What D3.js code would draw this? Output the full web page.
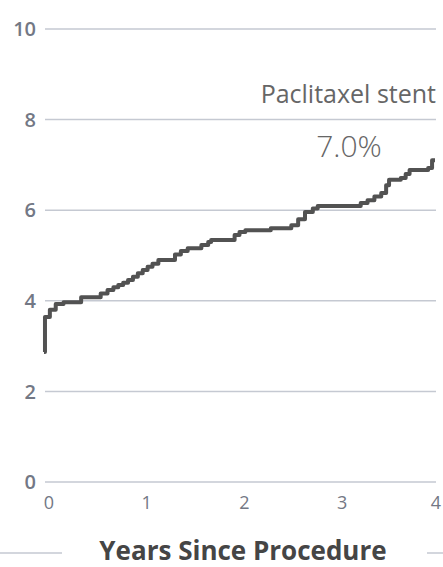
<!DOCTYPE html>
<html><head><meta charset="utf-8">
<script src="https://cdn.jsdelivr.net/npm/d3@7"></script>
<style>
html,body{margin:0;padding:0;background:#fff;}
text{font-family:"Open Sans",sans-serif;}
</style></head>
<body>
<svg id="chart" width="443" height="567"></svg>
<script>
const years = [0.00,0.01,0.06,0.12,0.20,0.38,0.58,0.65,0.71,0.76,0.81,0.86,0.91,0.96,1.01,1.06,1.11,1.17,1.34,1.40,1.47,1.61,1.68,1.71,1.95,2.00,2.06,2.32,2.53,2.60,2.67,2.75,2.80,3.24,3.31,3.38,3.45,3.50,3.53,3.65,3.70,3.74,3.93,3.97,4.00];
const rates = [2.87,3.64,3.80,3.93,3.97,4.08,4.16,4.24,4.30,4.35,4.40,4.46,4.53,4.61,4.68,4.75,4.82,4.90,5.02,5.10,5.16,5.23,5.30,5.34,5.45,5.52,5.56,5.60,5.67,5.80,5.96,6.04,6.09,6.16,6.22,6.30,6.38,6.55,6.67,6.71,6.80,6.89,6.93,7.10,7.10];
const yTicks = [0,2,4,6,8,10];
const xTicks = [0,1,2,3,4];
const seriesName = "Paclitaxel stent";
const finalLabel = "7.0%";
const xTitle = "Years Since Procedure";

const svg = d3.select("#chart");
const x = d3.scaleLinear().domain([0,4]).range([44,435]);
const y = d3.scaleLinear().domain([0,10]).range([482,29]);

svg.append("g").selectAll("line").data(yTicks).join("line")
  .attr("x1",45).attr("x2",436)
  .attr("y1",d=>y(d)).attr("y2",d=>y(d))
  .attr("stroke","#c5c9d2").attr("stroke-width",1.5);

svg.append("g").selectAll("text").data(yTicks).join("text")
  .attr("x",36).attr("y",d=>y(d)).attr("dy","0.36em")
  .attr("text-anchor","end").attr("font-size",20).attr("font-weight",600)
  .attr("fill","#737885").text(d=>d);

svg.append("g").selectAll("text").data(xTicks).join("text")
  .attr("x",d=>Math.min(x(d)+5, 436)).attr("y",509)
  .attr("text-anchor","middle").attr("font-size",18).attr("font-weight",400)
  .attr("fill","#737885").text(d=>d);

const line = d3.line().x((d,i)=>x(years[i])).y((d,i)=>y(rates[i])).curve(d3.curveStepAfter);
svg.append("path").datum(rates).attr("d",line)
  .attr("fill","none").attr("stroke","#525252").attr("stroke-width",4)
  .attr("stroke-linejoin","round");

svg.append("text").attr("x",436).attr("y",103).attr("text-anchor","end")
  .attr("font-size",25).attr("fill","#666").text(seriesName);
svg.append("text").attr("x",349).attr("y",157).attr("text-anchor","middle")
  .attr("font-size",30).attr("font-weight",300).attr("fill","#666").text(finalLabel);

svg.append("text").attr("x",243).attr("y",560).attr("text-anchor","middle")
  .attr("font-size",26).attr("font-weight",700).attr("fill","#454545").text(xTitle);
svg.append("line").attr("x1",0).attr("x2",62).attr("y1",553).attr("y2",553).attr("stroke","#c5c9d2").attr("stroke-width",1.5);
svg.append("line").attr("x1",427).attr("x2",443).attr("y1",553).attr("y2",553).attr("stroke","#c5c9d2").attr("stroke-width",1.5);
</script>
</body></html>
